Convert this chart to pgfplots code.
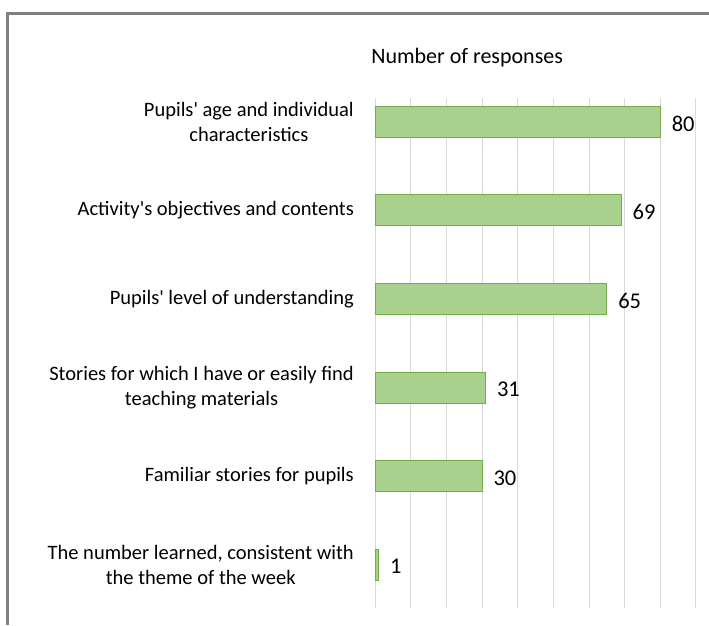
\documentclass[border=0pt]{standalone}
\usepackage{fontspec}
\setmainfont{Carlito}
\usepackage{pgfplots}
\pgfplotsset{compat=1.18}
\definecolor{barfill}{RGB}{169,209,142}
\definecolor{baredge}{RGB}{112,173,71}
\definecolor{gridc}{RGB}{217,217,217}
\definecolor{framec}{RGB}{128,128,128}
\begin{document}
\begin{tikzpicture}[x=1pt,y=1pt]
\path[use as bounding box] (0,0) rectangle (709,625);
\draw[framec, line width=3pt] (7.5,0) -- (7.5,611.5) -- (709,611.5);
\begin{axis}[
 at={(375pt,17pt)}, anchor=south west, scale only axis, width=321pt, height=510pt,
 xbar, bar width=0.35, xmin=0, xmax=90, ymin=-0.27, ymax=5.49, y dir=reverse,
 xtick={0,10,...,90}, xticklabels={}, xmajorgrids, grid style={gridc, line width=1pt},
 ytick={0,...,5},
 yticklabels={{Pupils\textquotesingle\ age and individual\\characteristics},
   {Activity\textquotesingle s objectives and contents},
   {Pupils\textquotesingle\ level of understanding},
   {Stories for which I have or easily find\\teaching materials},
   {Familiar stories for pupils},
   {The number learned, consistent with\\the theme of the week}},
 axis line style={draw=none}, major tick length=0pt, tick style={draw=none},
 yticklabel style={align=center, font=\fontsize{20.5}{25}\selectfont, inner sep=0pt, xshift=-21pt},
 nodes near coords, nodes near coords align=horizontal,
 nodes near coords style={font=\fontsize{22.5}{25}\selectfont, anchor=west, inner sep=0pt, xshift=11pt, yshift=-2pt, text=black},
 /pgf/number format/assume math mode=true,
 title={Number of responses},
 title style={at={(axis description cs:0.287,1)}, anchor=center, yshift=34pt, font=\fontsize{22}{25}\selectfont},
]
\addplot[fill=barfill, draw=baredge, line width=1pt] coordinates {(80,0) (69,1) (65,2) (31,3) (30,4) (1,5)};
\end{axis}
\end{tikzpicture}
\end{document}
